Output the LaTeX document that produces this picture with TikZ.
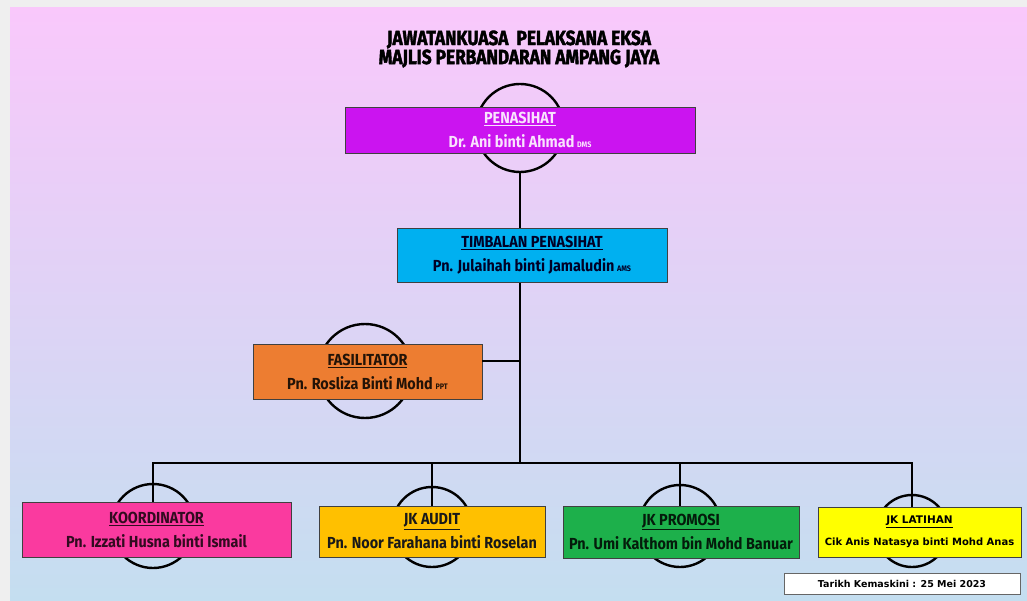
\documentclass[tikz,border=0pt]{standalone}
\usepackage{fontspec}
\usetikzlibrary{positioning, calc, backgrounds}
\newfontfamily\boxfont{Fira Sans}[FakeStretch=0.9]
\newfontfamily\titlefont{Fira Sans}[FakeStretch=0.84, FakeBold=2]
\newfontfamily\tahfont{DejaVu Sans}
\definecolor{frame}{HTML}{EFEFEF}
\definecolor{bgtop}{HTML}{F9C8FB}
\definecolor{bgmid}{HTML}{DCD0F6}
\definecolor{bgbot}{HTML}{C4DEF0}
\definecolor{penfill}{HTML}{CB14F0}
\definecolor{timfill}{HTML}{00B0F0}
\definecolor{fasfill}{HTML}{ED7D31}
\definecolor{koorfill}{HTML}{FA3A9F}
\definecolor{auditfill}{HTML}{FFC000}
\definecolor{promfill}{HTML}{1DB04B}
\definecolor{latfill}{HTML}{FFFF00}
\newcommand{\post}[1]{\,{\fontsize{8}{8}\selectfont #1}}

\begin{document}
\begin{tikzpicture}[x=1pt, y=-1pt,
      org/.style={draw=black!75, line width=0.8pt, inner sep=0pt, align=center,
                  font=\boxfont\bfseries\fontsize{16}{24}\selectfont},
      ring/.style={circle, draw=black, line width=2.4pt, inner sep=0pt},
      link/.style={black, line width=2.4pt}]
    \useasboundingbox (0,0) rectangle (1027,601);
    \fill[frame] (0,0) rectangle (1027,601);
    \shade[top color=bgtop, middle color=bgmid, bottom color=bgbot] (10,8) rectangle (1027,601);

    \node[align=center, font=\titlefont\bfseries\fontsize{20.5}{18}\selectfont] (title) at (519,49)
      {JAWATANKUASA\ \ PELAKSANA EKSA\\MAJLIS PERBANDARAN AMPANG JAYA};

    % rings behind the boxes
    \node[ring, minimum size=88pt] (penring)   at (520,128) {};
    \node[ring, minimum size=94pt] (fasring)   at (365,371) {};
    \node[ring, minimum size=84pt] (koorring)  at (153,526) {};
    \node[ring, minimum size=80pt] (auditring) at (432,527) {};
    \node[ring, minimum size=82pt] (promring)  at (680,526) {};
    \node[ring, minimum size=72pt] (latring)   at (912,531) {};

    \node[org, fill=penfill, text=penfill!12, minimum width=350pt, minimum height=46pt] (pen) at (520,130)
      {\underline{PENASIHAT}\\Dr. Ani binti Ahmad\post{DMS}};
    \node[org, fill=timfill, text=black!85!blue, minimum width=270pt, minimum height=54pt] (tim) at (532,255.5)
      {\underline{TIMBALAN PENASIHAT}\\Pn. Julaihah binti Jamaludin\post{AMS}};
    \node[org, fill=fasfill, text=black!85!fasfill, minimum width=229pt, minimum height=55pt] (fas) at (367.5,371.5)
      {\underline{FASILITATOR}\\Pn. Rosliza Binti Mohd\post{PPT}};
    \node[org, fill=koorfill, text=black!80!koorfill, minimum width=269pt, minimum height=55pt] (koor) at (156.5,529.5)
      {\underline{KOORDINATOR}\\Pn. Izzati Husna binti Ismail};
    \node[org, fill=auditfill, text=black!90, minimum width=226pt, minimum height=51pt] (audit) at (432,531.5)
      {\underline{JK AUDIT}\\Pn. Noor Farahana binti Roselan};
    \node[org, fill=promfill, text=black!85!promfill, minimum width=236pt, minimum height=52pt] (promosi) at (681,532)
      {\underline{JK PROMOSI}\\Pn. Umi Kalthom bin Mohd Banuar};
    \node[org, fill=latfill, minimum width=203pt, minimum height=50pt,
          font=\tahfont\bfseries\fontsize{10}{22}\selectfont] (latihan) at (919.5,532)
      {{\fontsize{10.5}{22}\selectfont\underline{JK LATIHAN}}\\Cik Anis Natasya binti Mohd Anas};
    \node[draw=black!60, line width=0.7pt, fill=white, minimum width=236pt, minimum height=21pt,
          inner sep=0pt, font=\tahfont\bfseries\fontsize{9.5}{9.5}\selectfont] (date) at (902,583.5)
      {Tarikh Kemaskini : 25 Mei 2023};

    % connectors
    \coordinate (bar) at (520,463);
    \coordinate (fasjoin) at (520,361);
    \draw[link] (penring.south) -- (penring.south |- tim.north);
    \draw[link] (bar |- tim.south) -- (bar);
    \draw[link] (fas.east |- fasjoin) -- (fasjoin);
    \draw[link] (koorring.center |- koor.north) |- (bar) -| (latring.center |- latihan.north);
    \draw[link] (bar -| audit.north) -- (audit.north);
    \draw[link] (bar -| promring.center) -- (promring.center |- promosi.north);
  \end{tikzpicture}
\end{document}
